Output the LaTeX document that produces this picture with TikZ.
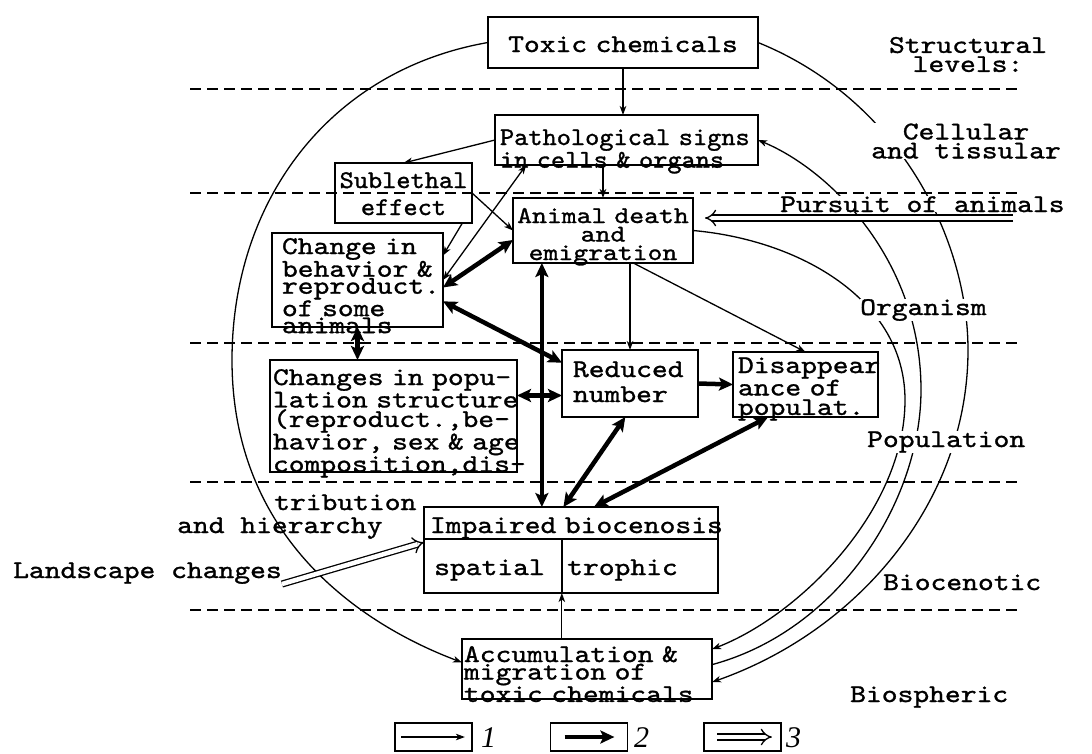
\documentclass[tikz,border=0pt]{standalone}
\usepackage{fontspec}
\newfontfamily\typew{lmmono10-regular.otf}[FakeStretch=1.18,FakeBold=1.2]
\newfontfamily\typen{lmmono10-regular.otf}[FakeStretch=1.06,FakeBold=1.2]
\newfontfamily\digitfont{Liberation Serif}
\usetikzlibrary{arrows.meta}

\newcommand{\tsize}[2]{\fontsize{#1}{#2}\selectfont}
\newcommand{\boxline}[1]{\mbox{#1}}

\tikzset{
  lighttip/.tip={Stealth[length=9pt,width=6.5pt,inset=2.5pt]},
  heavytip/.tip={Stealth[length=14pt,width=13pt,inset=3pt]},
  box/.style={draw, line width=2.4pt, outer sep=0pt, inner ysep=0pt, align=left, anchor=north west, font=\typew\tsize{25.5}{17}},
  legbox/.style={draw, line width=1.8pt, minimum width=77pt, minimum height=28pt, inner sep=0pt},
  lbl/.style={inner sep=0pt, anchor=base west, font=\typew\tsize{25.5}{19}},
  lvl/.style={lbl, fill=white},
  digit/.style={inner sep=0pt, anchor=base west, font=\digitfont\itshape\tsize{30}{30}},
  levelline/.style={line width=1.6pt, dash pattern=on 11pt off 6pt},
  thinline/.style={line width=1.3pt},
  boldline/.style={line width=4.5pt},
  dblline/.style={double, double distance=4.5pt, line width=1.3pt, -{Implies}},
}

\begin{document}
\begin{tikzpicture}[x=1pt,y=-1pt]
  \useasboundingbox (0,0) rectangle (1092,753);

% LEVEL LINES =================================================================
  \foreach \y in {89,193,343,482,610} {
    \draw[levelline] (190,\y) to (1020,\y);
  }

% BOXES =======================================================================
  \node[box, align=center, text width=260pt, inner xsep=5pt, text height=35pt, text depth=16pt] (toxic) at (488,17) {Toxic chemicals};
  \node[box, font=\typen\tsize{25.5}{15}, text width=253pt, inner xsep=5pt, text height=30pt, text depth=20pt] (patho) at (495,115)
    {\boxline{Pathological signs}\\\boxline{in cells \& organs}};
  \node[box, align=center, font=\typen\tsize{25.5}{27}, text width=131pt, inner xsep=3pt, text height=25pt, text depth=35pt] (subl) at (335,163)
    {\boxline{Sublethal}\\\boxline{effect}};
  \node[box, align=center, font=\typew\tsize{24}{18.5}, text width=176pt, inner xsep=2pt, text height=25pt, text depth=40pt] (animal) at (513,198)
    {\boxline{Animal death}\\\boxline{and}\\\boxline{emigration}};
  \node[box, text width=151pt, inner xsep=10pt, text height=21pt, text depth=73pt] (change) at (272,233)
    {\boxline{Change in}\\\boxline{behavior \&}\\\boxline{reproduct.}\\\boxline{of some}\\\boxline{animals}};
  \node[box, font=\typew\tsize{25.5}{19.5}, text width=241pt, inner xsep=3pt, text height=25pt, text depth=87pt] (changes) at (270,360)
    {\boxline{Changes in popu-}\\\boxline{lation structure}\\\boxline{(reproduct.,be-}\\\boxline{havior, sex \& age}\\\boxline{composition,dis-}};
  \node[box, font=\typew\tsize{25.5}{25}, text width=114pt, inner xsep=11pt, text height=27pt, text depth=40pt] (reduced) at (562,350)
    {\boxline{Reduced}\\\boxline{number}};
  \node[box, font=\typew\tsize{25.5}{19.5}, text width=135pt, inner xsep=5pt, text height=21pt, text depth=44pt] (disapp) at (733,352)
    {\boxline{Disappear}\\\boxline{ance of}\\\boxline{populat.}};
  \node[box, text width=282pt, inner xsep=6pt, text height=26pt, text depth=60pt] (impaired) at (424,507)
    {\boxline{Impaired biocenosis}};
  \node[box, font=\typew\tsize{25.5}{17.5}, text width=246pt, inner xsep=2pt, text height=23pt, text depth=37pt] (accum) at (462,639)
    {\boxline{Accumulation \&}\\\boxline{migration of}\\\boxline{toxic chemicals}};

  \draw[line width=2.4pt] ([yshift=-32pt]impaired.north west) to ([yshift=-32pt]impaired.north east);
  \draw[line width=2.4pt] ([xshift=138pt,yshift=-32pt]impaired.north west) to ([xshift=138pt]impaired.south west);
  \node[lbl] (spatial) at (434,575) {spatial};
  \node[lbl] (trophic) at (567,575) {trophic};

% CURVED LINKS ================================================================
  \draw[thinline, -{lighttip}] (toxic.west) .. controls (330,70) and (232,200) .. (232,360)
    .. controls (232,530) and (350,620) .. (accum.177);
  \draw[thinline, -{lighttip}] (toxic.east) .. controls (900,100) and (968,240) .. (968,350)
    .. controls (968,500) and (860,630) .. (accum.-6);
  \draw[thinline, -{lighttip}] (accum.2) .. controls (840,630) and (921,500) .. (921,390)
    .. controls (921,260) and (830,170) .. (patho.east);
  \draw[thinline, -{lighttip}] (animal.east) .. controls (800,240) and (905,300) .. (905,400)
    .. controls (905,510) and (800,615) .. (accum.9);

% LEVEL NAMES =================================================================
  \node[lbl, anchor=center, align=center] (structural) at (968,54.5) {Structural\\levels:};
  \node[lvl, anchor=center, align=center] (cellular) at (966,141) {Cellular\\and tissular};
  \node[lvl] (pursuit) at (780,212) {Pursuit of animals};
  \node[lvl] (organism) at (860,315) {Organism};
  \node[lvl] (population) at (867,447) {Population};
  \node[lvl] (biocenotic) at (883,590) {Biocenotic};
  \node[lbl] (biospheric) at (850,702) {Biospheric};

  \node[lbl] (tribution) at (274,510) {tribution};
  \node[lbl] (hierarchy) at (177,533) {and hierarchy};
  \node[lbl] (landscape) at (13,578) {Landscape changes};

% THIN LINKS ==================================================================
  \draw[thinline, -{lighttip}] (toxic.south) to (toxic.south |- patho.north);
  \draw[thinline, -{lighttip}] (patho.west) to (subl.north);
  \draw[thinline, -{lighttip}] (animal.north |- patho.south) to (animal.north);
  \draw[thinline, {lighttip}-{lighttip}] (change.east) to (patho.194);
  \draw[thinline, -{lighttip}] (subl.333) to (change.16);
  \draw[thinline, -{lighttip}] (subl.east) to (animal.west);
  \draw[thinline, -{lighttip}] (reduced.north |- animal.south) to (reduced.north);
  \draw[thinline, -{lighttip}] (animal.313) to (disapp.north);
  \draw[thinline, -{lighttip}] (accum.130) to (accum.130 |- impaired.south);

% THICK LINKS =================================================================
  \draw[boldline, {heavytip}-{heavytip}] (change.-5) to (animal.186);
  \draw[boldline, {heavytip}-{heavytip}] (change.-14) to (reduced.163);
  \draw[boldline, {heavytip}-{heavytip}] (change.south) to (change.south |- changes.north);
  \draw[boldline, {heavytip}-{heavytip}] (changes.east |- reduced.190) to (reduced.190);
  \draw[boldline, {heavytip}-{heavytip}] (animal.208) to (animal.208 |- impaired.north);
  \draw[boldline, {heavytip}-{heavytip}] (reduced.262) to (impaired.100);
  \draw[boldline, {heavytip}-{heavytip}] (disapp.221) to (impaired.62);
  \draw[boldline, -{heavytip}] (reduced.east) to (disapp.west);

% OUTSIDE FACTORS =============================================================
  \coordinate (pursuitfrom) at (1013,218);
  \draw[dblline, shorten >=12pt] (pursuitfrom) to (animal.east |- pursuitfrom);
  \draw[dblline] (landscape.south east) to (impaired.177);

% LEGEND ======================================================================
  \node[legbox] (leg1) at (433.5,737) {};
  \node[legbox] (leg2) at (589,737) {};
  \node[legbox] (leg3) at (742.5,737) {};
  \draw[thinline, -{lighttip}] ([xshift=7pt]leg1.west) to ([xshift=-8pt]leg1.east);
  \draw[boldline, -{heavytip}] ([xshift=15pt]leg2.west) to ([xshift=-14pt]leg2.east);
  \draw[dblline] ([xshift=14pt]leg3.west) to ([xshift=-10pt]leg3.east);
  \node[digit] (num1) at (481,747) {1};
  \node[digit] (num2) at (634,747) {2};
  \node[digit] (num3) at (786,747) {3};

\end{tikzpicture}
\end{document}
